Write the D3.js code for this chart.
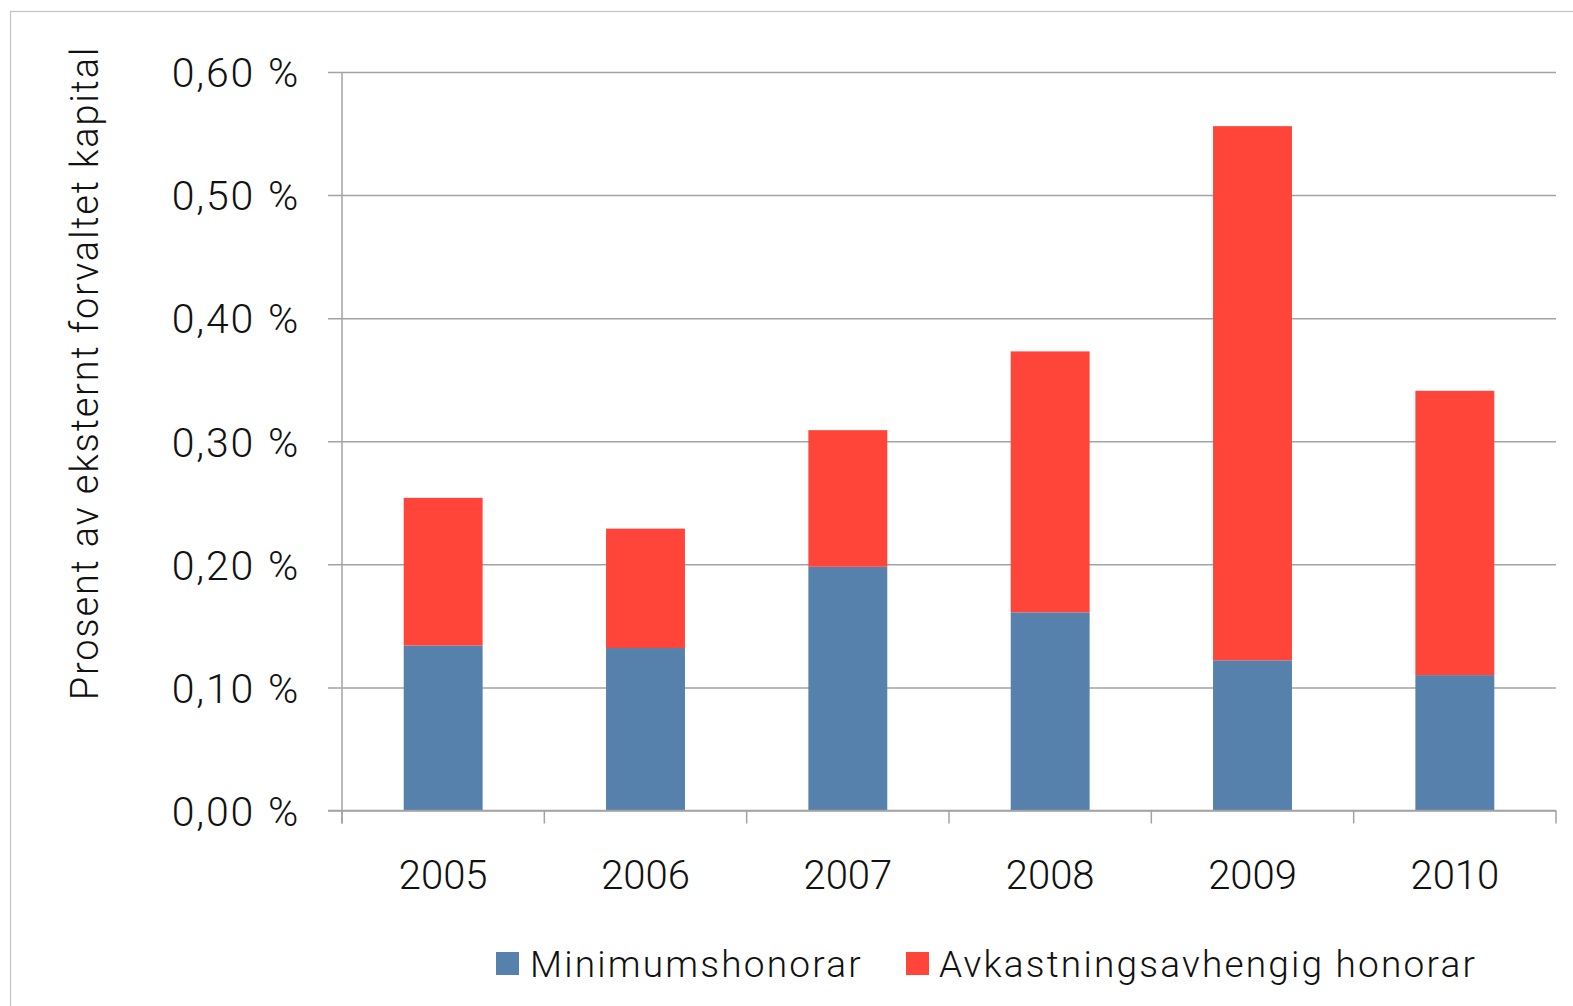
<!DOCTYPE html>
<html>
<head>
<meta charset="utf-8">
<script src="https://cdn.jsdelivr.net/npm/d3@7"></script>
<style>
  html, body { margin: 0; padding: 0; background: #fff; }
  svg { display: block; }
  text { font-family: Roboto, "Liberation Sans", Arial, sans-serif; font-weight: 300; fill: #111; }
</style>
</head>
<body>
<svg id="chart" width="1573" height="1006"></svg>
<script>
const years = ["2005", "2006", "2007", "2008", "2009", "2010"];
const minimumshonorar = [0.134, 0.132, 0.198, 0.161, 0.122, 0.110];
const avkastningsavhengig = [0.120, 0.097, 0.111, 0.212, 0.434, 0.231];
const seriesNames = ["Minimumshonorar", "Avkastningsavhengig honorar"];
const seriesColors = ["#5581ac", "#ff443a"];
const yTicks = [0, 0.1, 0.2, 0.3, 0.4, 0.5, 0.6];
const yTitle = "Prosent av eksternt forvaltet kapital";

const svg = d3.select("#chart");
const gridColor = "#a3a3a3";

// frame
svg.append("rect").attr("x", 10.5).attr("y", 11.5).attr("width", 1600).attr("height", 1100)
  .attr("fill", "none").attr("stroke", "#c4c4c4").attr("stroke-width", 1.2);

const x0 = 342, x1 = 1556;
const x = d3.scaleBand().domain(years).range([x0, x1]).paddingInner(0.61).paddingOuter(0.305);
const y = d3.scaleLinear().domain([0, 0.6]).range([810.5, 72]);

// gridlines + y ticks
const yAxis = d3.axisLeft(y).tickValues(yTicks)
  .tickSize(-(x1 - x0)).tickPadding(42)
  .tickFormat(d => d.toFixed(2).replace(".", ",") + " %");
const gy = svg.append("g").attr("transform", `translate(${x0},0)`).call(yAxis);
gy.select(".domain").remove();
gy.selectAll(".tick line").attr("stroke", gridColor).attr("stroke-width", 1.5).attr("x1", -14);
gy.selectAll(".tick text").attr("font-size", 41).attr("fill", "#111")
  .style("font-family", 'Roboto, "Liberation Sans", Arial, sans-serif').style("font-weight", 300)
  .style("letter-spacing", "1.8px").style("word-spacing", "1px")
  .attr("dy", "0.36em");

// stacked bars
const rows = years.map((yr, i) => ({ year: yr, a: minimumshonorar[i], b: avkastningsavhengig[i] }));
const stack = d3.stack().keys(["a", "b"])(rows);
svg.append("g").selectAll("g").data(stack).join("g")
  .attr("fill", (d, i) => seriesColors[i])
  .selectAll("rect").data(d => d).join("rect")
  .attr("x", d => x(d.data.year))
  .attr("width", x.bandwidth())
  .attr("y", d => y(d[1]))
  .attr("height", d => y(d[0]) - y(d[1]));

// y axis line
svg.append("line").attr("x1", x0).attr("x2", x0).attr("y1", y(0.6)).attr("y2", y(0) + 13)
  .attr("stroke", gridColor).attr("stroke-width", 1.5);
// x axis line
svg.append("line").attr("x1", x0 - 14).attr("x2", x1).attr("y1", y(0)).attr("y2", y(0))
  .attr("stroke", gridColor).attr("stroke-width", 1.5);
// category boundary ticks
const boundaries = d3.range(years.length + 1).map(i => x0 + i * x.step());
svg.append("g").selectAll("line").data(boundaries).join("line")
  .attr("x1", d => d).attr("x2", d => d).attr("y1", y(0)).attr("y2", y(0) + 13)
  .attr("stroke", gridColor).attr("stroke-width", 1.5);

// x labels
const xAxis = d3.axisBottom(x).tickSize(0).tickPadding(0);
const gx = svg.append("g").attr("transform", `translate(0,${y(0)})`).call(xAxis);
gx.select(".domain").remove();
gx.selectAll(".tick text").attr("font-size", 40).attr("fill", "#111").attr("y", 78).attr("dy", 0)
  .style("font-family", 'Roboto, "Liberation Sans", Arial, sans-serif').style("font-weight", 300);

// y title
svg.append("text")
  .attr("transform", "translate(98,373) rotate(-90)")
  .attr("text-anchor", "middle")
  .attr("font-size", 38)
  .style("letter-spacing", "1.8px")
  .text(yTitle);

// legend
const legendItems = [{ x: 496, tx: 530 }, { x: 906, tx: 939 }];
const lg = svg.append("g");
seriesNames.forEach((name, i) => {
  lg.append("rect").attr("x", legendItems[i].x).attr("y", 952).attr("width", 23).attr("height", 23)
    .attr("fill", seriesColors[i]);
  lg.append("text").attr("x", legendItems[i].tx).attr("y", 977).attr("font-size", 37)
    .style("letter-spacing", "2.2px").text(name);
});
</script>
</body>
</html>
